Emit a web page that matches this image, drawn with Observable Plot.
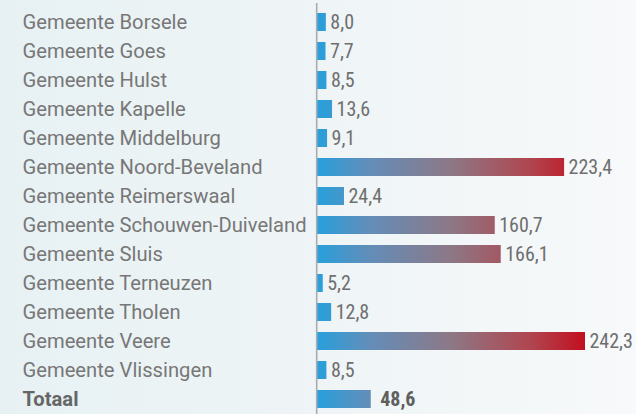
<!DOCTYPE html>
<html>
<head>
<meta charset="utf-8">
<script src="https://cdn.jsdelivr.net/npm/d3@7"></script>
<script src="https://cdn.jsdelivr.net/npm/@observablehq/plot@0.6"></script>
<style>
  html, body { margin: 0; padding: 0; }
  body { width: 636px; height: 414px; overflow: hidden;
         background: linear-gradient(to right, #e7f1f3 0%, #eef4f6 45%, #f7f9fa 100%); }
  #chart svg { display: block; }
</style>
</head>
<body>
<div id="chart"></div>
<script>
const categories = [
  "Gemeente Borsele", "Gemeente Goes", "Gemeente Hulst", "Gemeente Kapelle",
  "Gemeente Middelburg", "Gemeente Noord-Beveland", "Gemeente Reimerswaal",
  "Gemeente Schouwen-Duiveland", "Gemeente Sluis", "Gemeente Terneuzen",
  "Gemeente Tholen", "Gemeente Veere", "Gemeente Vlissingen", "Totaal"
];
const values = [8.0, 7.7, 8.5, 13.6, 9.1, 223.4, 24.4, 160.7, 166.1, 5.2, 12.8, 242.3, 8.5, 48.6];
const totalLabel = "Totaal";

const data = categories.map((c, i) => ({name: c, value: values[i], total: c === totalLabel}));
const fmt = v => d3.format(".1f")(v).replace(".", ",");
const xMax = d3.max(values);

const gradientDefs = (index, scales) => {
  const ns = "http://www.w3.org/2000/svg";
  const defs = document.createElementNS(ns, "defs");
  const lg = document.createElementNS(ns, "linearGradient");
  lg.setAttribute("id", "barGrad");
  lg.setAttribute("gradientUnits", "userSpaceOnUse");
  lg.setAttribute("x1", scales.x(0));
  lg.setAttribute("x2", scales.x(xMax));
  lg.setAttribute("y1", 0);
  lg.setAttribute("y2", 0);
  [["0%", "#27a0dc"], ["20%", "#648db8"], ["50%", "#8d7886"], ["80%", "#b0454e"], ["100%", "#c20f1f"]].forEach(([o, c]) => {
    const s = document.createElementNS(ns, "stop");
    s.setAttribute("offset", o);
    s.setAttribute("stop-color", c);
    lg.appendChild(s);
  });
  defs.appendChild(lg);
  return defs;
};

const labelFont = "Roboto, 'Liberation Sans', sans-serif";
const valueFont = "'Liberation Sans Narrow', 'Roboto Condensed', Roboto, sans-serif";

const chart = Plot.plot({
  width: 636,
  height: 414,
  marginLeft: 317,
  marginRight: 51,
  marginTop: 3,
  marginBottom: 0,
  style: {background: "transparent", overflow: "visible"},
  x: {domain: [0, xMax], axis: null},
  y: {domain: categories, range: [0, 421], padding: 0.37, axis: null},
  marks: [
    gradientDefs,
    Plot.barX(data, {x: "value", y: "name", fill: "url(#barGrad)"}),
    Plot.ruleX([0], {stroke: "#a9acae", strokeWidth: 1.6, dx: -0.8}),
    Plot.text(data.filter(d => !d.total), {
      y: "name", text: "name", frameAnchor: "left", textAnchor: "start", dx: -295,
      fill: "#777", fontSize: 20.2, fontFamily: labelFont
    }),
    Plot.text(data.filter(d => d.total), {
      y: "name", text: "name", frameAnchor: "left", textAnchor: "start", dx: -295,
      fill: "#666", fontSize: 20.2, fontWeight: "bold", fontFamily: labelFont
    }),
    Plot.text(data.filter(d => !d.total), {
      x: "value", y: "name", text: d => fmt(d.value), textAnchor: "start", dx: 4,
      fill: "#6f6f6f", fontSize: 20, fontFamily: valueFont
    }),
    Plot.text(data.filter(d => d.total), {
      x: "value", y: "name", text: d => fmt(d.value), textAnchor: "start", dx: 9,
      fill: "#5f5f5f", fontSize: 20, fontWeight: "bold", fontFamily: valueFont
    })
  ]
});
document.getElementById("chart").appendChild(chart);
</script>
</body>
</html>
